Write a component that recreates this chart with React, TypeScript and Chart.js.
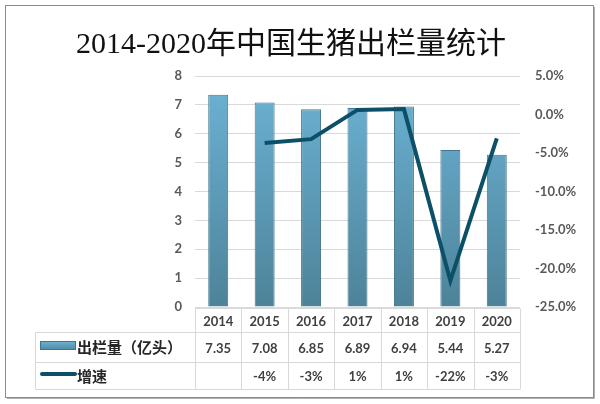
import React, { useEffect, useRef } from "react";
import { Chart, registerables } from "chart.js";

Chart.register(...registerables);

const titleText = "2014-2020年中国生猪出栏量统计";
const years = ["2014", "2015", "2016", "2017", "2018", "2019", "2020"];
const outputValues = [7.35, 7.08, 6.85, 6.89, 6.94, 5.44, 5.27];
const growthValues: (number | null)[] = [null, -3.7, -3.2, 0.6, 0.7, -21.6, -3.1];
const barLabel = "出栏量（亿头）";
const lineLabel = "增速";
const leftAxis = { min: 0, max: 8, step: 1 };
const rightAxis = { min: -25, max: 5, step: 5 };

const BAR_TOP = "#6DB3D6";
const BAR_BOTTOM = "#4D8399";
const BAR_BORDER = "#41758B";
const LINE_COLOR = "#0C5068";
const TEXT_COLOR = "#404040";
const TICK_COLOR = "#595959";
const GRID_COLOR = "#D9D9D9";

const decorPlugin = {
  id: "decor",
  beforeDraw(chart: any) {
    const { ctx, width, height } = chart;
    ctx.save();
    ctx.fillStyle = "#ffffff";
    ctx.fillRect(0, 0, width, height);
    ctx.restore();
  },
  afterDraw(chart: any) {
    const { ctx, chartArea } = chart;
    const x = chart.scales.x;
    const half = (x.getPixelForValue(1) - x.getPixelForValue(0)) / 2;
    const L = chartArea.left;
    const R = chartArea.right;
    const B = chartArea.bottom;
    const r0 = B + 1.5;
    const r1 = 332.5;
    const r2 = 362.5;
    const r3 = 389.5;
    const legendLeft = 35.5;

    ctx.save();
    // outer border
    ctx.strokeStyle = "#8C8C8C";
    ctx.lineWidth = 1;
    ctx.strokeRect(5.5, 5.5, 588, 392);
    ctx.strokeStyle = "#B0B0B0";
    ctx.beginPath();
    ctx.moveTo(594.5, 7);
    ctx.lineTo(594.5, 398.5);
    ctx.lineTo(7, 398.5);
    ctx.stroke();

    // title
    ctx.fillStyle = "#111111";
    ctx.font = "30px 'Liberation Serif', 'Noto Sans CJK SC', serif";
    ctx.textAlign = "center";
    ctx.textBaseline = "alphabetic";
    ctx.fillText(titleText, 291, 53);

    // table lines
    const line = (x1: number, y1: number, x2: number, y2: number) => {
      ctx.beginPath();
      ctx.moveTo(x1, y1);
      ctx.lineTo(x2, y2);
      ctx.stroke();
    };
    ctx.strokeStyle = GRID_COLOR;
    ctx.lineWidth = 1;
    line(L, r0, R, r0);
    line(legendLeft, r1, R, r1);
    line(legendLeft, r2, R, r2);
    line(legendLeft, r3, R, r3);
    for (let i = 0; i < years.length; i++) {
      const xe = Math.round(x.getPixelForValue(i) - half) + 0.5;
      line(xe, r0, xe, r3);
    }
    line(Math.round(R) + 0.5, r0, Math.round(R) + 0.5, r3);
    line(legendLeft, r1, legendLeft, r3);

    // table text
    ctx.fillStyle = TEXT_COLOR;
    ctx.textAlign = "center";
    ctx.textBaseline = "middle";
    ctx.font = "bold 13px Lato, 'Noto Sans', sans-serif";
    for (let i = 0; i < years.length; i++) {
      const cx = x.getPixelForValue(i);
      ctx.fillText(years[i], cx, (r0 + r1) / 2 + 1);
      ctx.fillText(outputValues[i].toFixed(2), cx, (r1 + r2) / 2 + 1);
      const g = growthValues[i];
      if (g !== null) ctx.fillText(Math.round(g) + "%", cx, (r2 + r3) / 2 + 1);
    }

    // legend swatches
    const grad = ctx.createLinearGradient(0, 341, 0, 351);
    grad.addColorStop(0, BAR_TOP);
    grad.addColorStop(1, BAR_BOTTOM);
    ctx.fillStyle = grad;
    ctx.fillRect(40, 341, 36, 9);
    ctx.strokeStyle = BAR_BORDER;
    ctx.strokeRect(40.5, 341.5, 35, 8);

    ctx.strokeStyle = LINE_COLOR;
    ctx.lineWidth = 4;
    ctx.lineCap = "round";
    line(42, 374, 75, 374);

    ctx.fillStyle = "#262626";
    ctx.textAlign = "left";
    ctx.font = "bold 15px 'Noto Sans CJK SC', sans-serif";
    ctx.fillText(barLabel, 77, (r1 + r2) / 2);
    ctx.fillText(lineLabel, 77, (r2 + r3) / 2);
    ctx.restore();
  },
};

export default function App() {
  const canvasRef = useRef<HTMLCanvasElement | null>(null);

  useEffect(() => {
    document.body.style.margin = "0";
    const canvas = canvasRef.current;
    if (!canvas) return;
    const chart = new Chart(canvas, {
      type: "bar",
      data: {
        labels: years,
        datasets: [
          {
            type: "line",
            label: lineLabel,
            data: growthValues,
            yAxisID: "y1",
            borderColor: LINE_COLOR,
            backgroundColor: LINE_COLOR,
            borderWidth: 4,
            pointRadius: 0,
            tension: 0,
            spanGaps: false,
            order: 0,
          } as any,
          {
            type: "bar",
            label: barLabel,
            data: outputValues,
            yAxisID: "y",
            backgroundColor: (c: any) => {
              const ca = c.chart.chartArea;
              if (!ca) return BAR_TOP;
              const g = c.chart.ctx.createLinearGradient(0, ca.top, 0, ca.bottom);
              g.addColorStop(0, BAR_TOP);
              g.addColorStop(1, BAR_BOTTOM);
              return g;
            },
            borderColor: BAR_BORDER,
            borderWidth: 1,
            categoryPercentage: 1,
            barPercentage: 0.43,
            order: 1,
          } as any,
        ],
      },
      options: {
        responsive: false,
        animation: false,
        devicePixelRatio: 1,
        layout: { padding: { top: 76, left: 0, right: 0, bottom: 0 } },
        plugins: {
          legend: { display: false },
          title: { display: false },
          tooltip: { enabled: false },
        },
        scales: {
          x: {
            offset: true,
            grid: { display: false },
            border: { display: false },
            ticks: { display: false },
            afterFit: (s: any) => {
              s.height = 97;
            },
          },
          y: {
            position: "left",
            min: leftAxis.min,
            max: leftAxis.max,
            ticks: {
              stepSize: leftAxis.step,
              color: TICK_COLOR,
              padding: 13,
              font: { family: "Lato", size: 13, weight: "bold" },
            },
            grid: { color: GRID_COLOR, drawTicks: false, lineWidth: 1 },
            border: { display: false },
            afterFit: (s: any) => {
              s.width = 195;
            },
          },
          y1: {
            position: "right",
            min: rightAxis.min,
            max: rightAxis.max,
            ticks: {
              stepSize: rightAxis.step,
              color: TICK_COLOR,
              padding: 15,
              font: { family: "Lato", size: 13, weight: "bold" },
              callback: (v: any) => Number(v).toFixed(1) + "%",
            },
            grid: { display: false, drawTicks: false },
            border: { display: false },
            afterFit: (s: any) => {
              s.width = 80;
            },
          },
        },
      } as any,
      plugins: [decorPlugin],
    });
    return () => chart.destroy();
  }, []);

  return <canvas ref={canvasRef} width={600} height={404} style={{ display: "block" }} />;
}
